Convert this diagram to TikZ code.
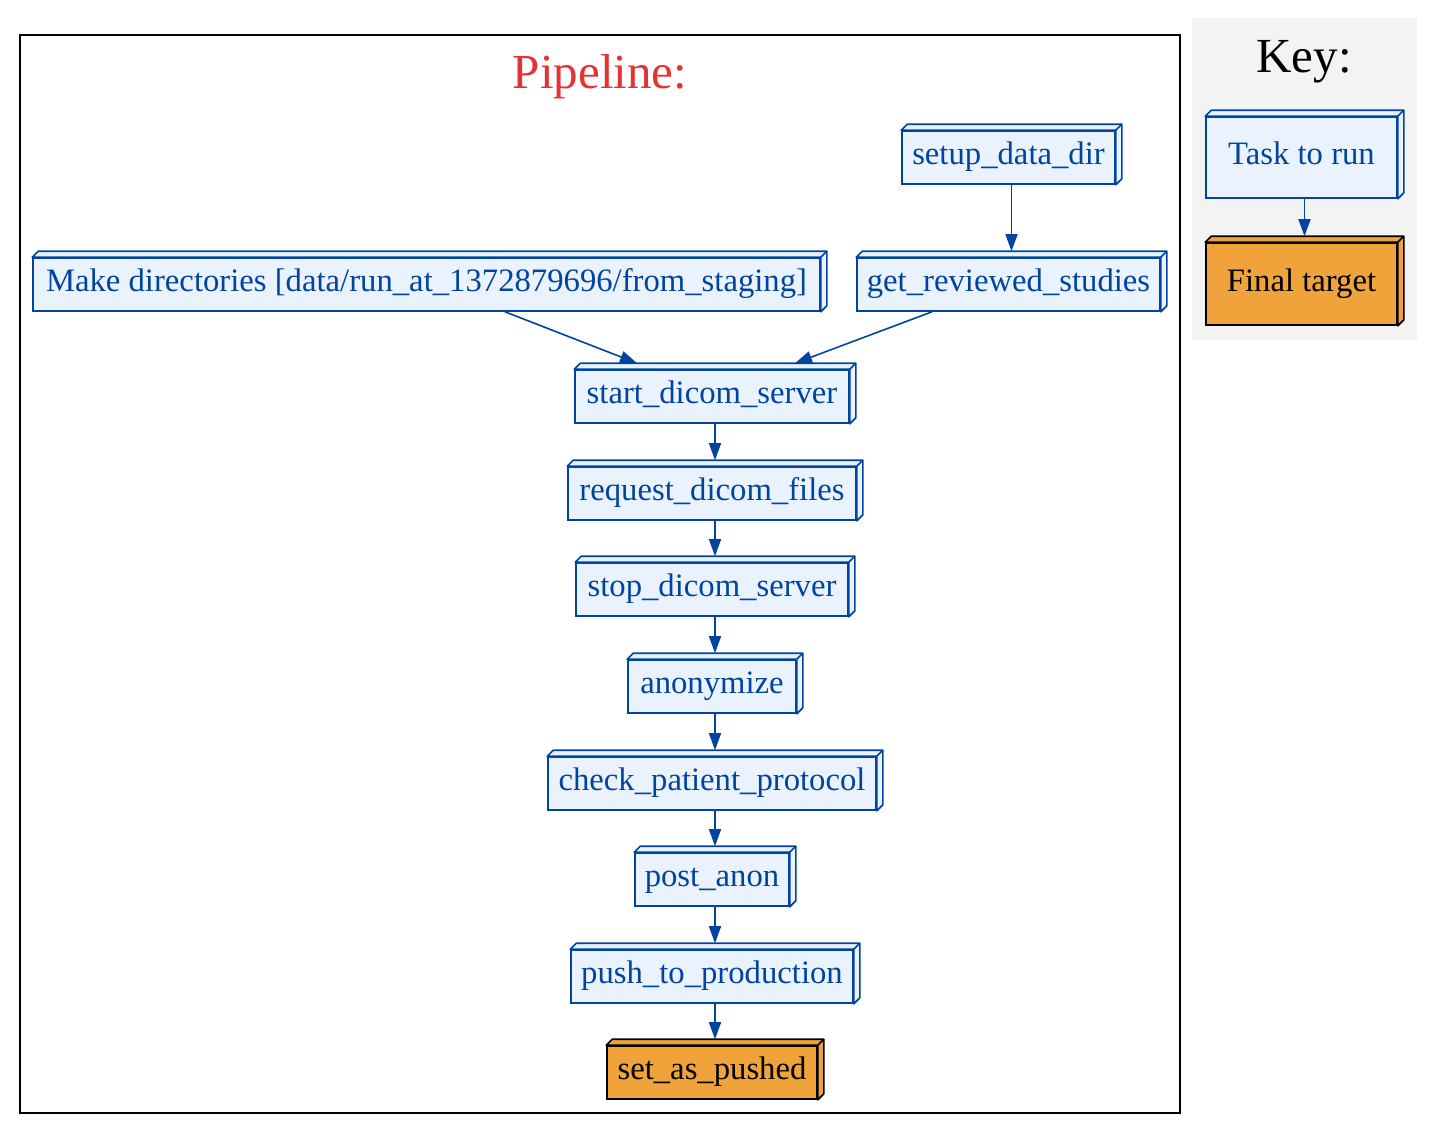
\documentclass[tikz,border=0pt]{standalone}
\usepackage{fontspec}
\setmainfont{Liberation Serif}
\usetikzlibrary{calc,arrows.meta}
\definecolor{tblue}{HTML}{0044A0}
\definecolor{tfill}{HTML}{EAF3FD}
\definecolor{ofill}{HTML}{EFA33A}
\definecolor{keybg}{HTML}{F4F3F4}
\definecolor{titlered}{HTML}{E53232}
\newcommand\bxthree[3]{%
  \draw[line width=1.6, draw=#3, fill=#2, line join=round]
    (#1.north west) -- ($(#1.north west)+(6,-6)$) -- ($(#1.north east)+(6,-6)$)
    -- ($(#1.south east)+(6,-6)$) -- (#1.south east) -- (#1.north east) -- cycle;
  \draw[line width=1.6, draw=#3] (#1.north east) -- ($(#1.north east)+(6,-6)$);}
\tikzset{
  task/.style={rectangle, draw=tblue, fill=tfill, text=tblue, line width=1.6,
    font=\fontsize{32.7}{36}\selectfont, inner sep=0pt, minimum height=53,
    text height=24pt, text depth=10pt},
  final/.style={task, draw=black, fill=ofill, text=black},
  flow/.style={draw=tblue, line width=1.6, -{Triangle[length=17pt,width=12pt]}},
  title/.style={font=\fontsize{49}{54}\selectfont, anchor=base, inner sep=0pt}
}
\begin{document}
\begin{tikzpicture}[x=1pt,y=-1pt]
\useasboundingbox (0,0) rectangle (1437,1133);
% frames
\fill[keybg] (1192,18) rectangle (1417,340);
\draw[line width=1.5] (20,35) rectangle (1180,1113);
\node[title, text=titlered] (ptitle) at (600,88) {Pipeline:};
\node[title] (ktitle) at (1304,72) {Key:};
% pipeline nodes
\node[task, minimum width=213] (setup) at (1008.5,157.5) {setup\_data\_dir};
\node[task, minimum width=303] (get) at (1008.5,284.5) {get\_reviewed\_studies};
\node[task, minimum width=787] (mk) at (426.5,284.5) {Make directories [data/run\_at\_1372879696/from\_staging]};
\node[task, minimum width=274] (start) at (712,396.5) {start\_dicom\_server};
\node[task, minimum width=288] (req) at (712,493.5) {request\_dicom\_files};
\node[task, minimum width=272] (stop) at (712,589.5) {stop\_dicom\_server};
\node[task, minimum width=168] (anon) at (712,686.5) {anonymize};
\node[task, minimum width=328] (check) at (712,783.5) {check\_patient\_protocol};
\node[task, minimum width=154] (post) at (712,879.5) {post\_anon};
\node[task, minimum width=282] (push) at (712,976.5) {push\_to\_production};
\node[final, minimum width=210] (set) at (712,1072.5) {set\_as\_pushed};
% key nodes
\node[task, minimum width=191, minimum height=81] (ktask) at (1301.5,157.5) {Task to run};
\node[final, minimum width=191, minimum height=82] (kfinal) at (1301.5,284) {Final target};
% 3d faces
\foreach \n in {setup,get,mk,start,req,stop,anon,check,post,push,ktask}{\bxthree{\n}{tfill}{tblue}}
\foreach \n in {set,kfinal}{\bxthree{\n}{ofill}{black}}
% connectors
\draw[flow] ($(setup.south)+(3,0)$) -- ($(get.north)+(3,-6)$);
\draw[flow] ($(mk.south)+(78.5,0)$) -- ($(start.north)+(-75,-6)$);
\draw[flow] ($(get.south)+(-76.5,0)$) -- ($(start.north)+(83,-6)$);
\draw[flow] ($(start.south)+(3,0)$) -- ($(req.north)+(3,-6)$);
\draw[flow] ($(req.south)+(3,0)$) -- ($(stop.north)+(3,-6)$);
\draw[flow] ($(stop.south)+(3,0)$) -- ($(anon.north)+(3,-6)$);
\draw[flow] ($(anon.south)+(3,0)$) -- ($(check.north)+(3,-6)$);
\draw[flow] ($(check.south)+(3,0)$) -- ($(post.north)+(3,-6)$);
\draw[flow] ($(post.south)+(3,0)$) -- ($(push.north)+(3,-6)$);
\draw[flow] ($(push.south)+(3,0)$) -- ($(set.north)+(3,-6)$);
\draw[flow] ($(ktask.south)+(3,0)$) -- ($(kfinal.north)+(3,-6)$);
\end{tikzpicture}
\end{document}
